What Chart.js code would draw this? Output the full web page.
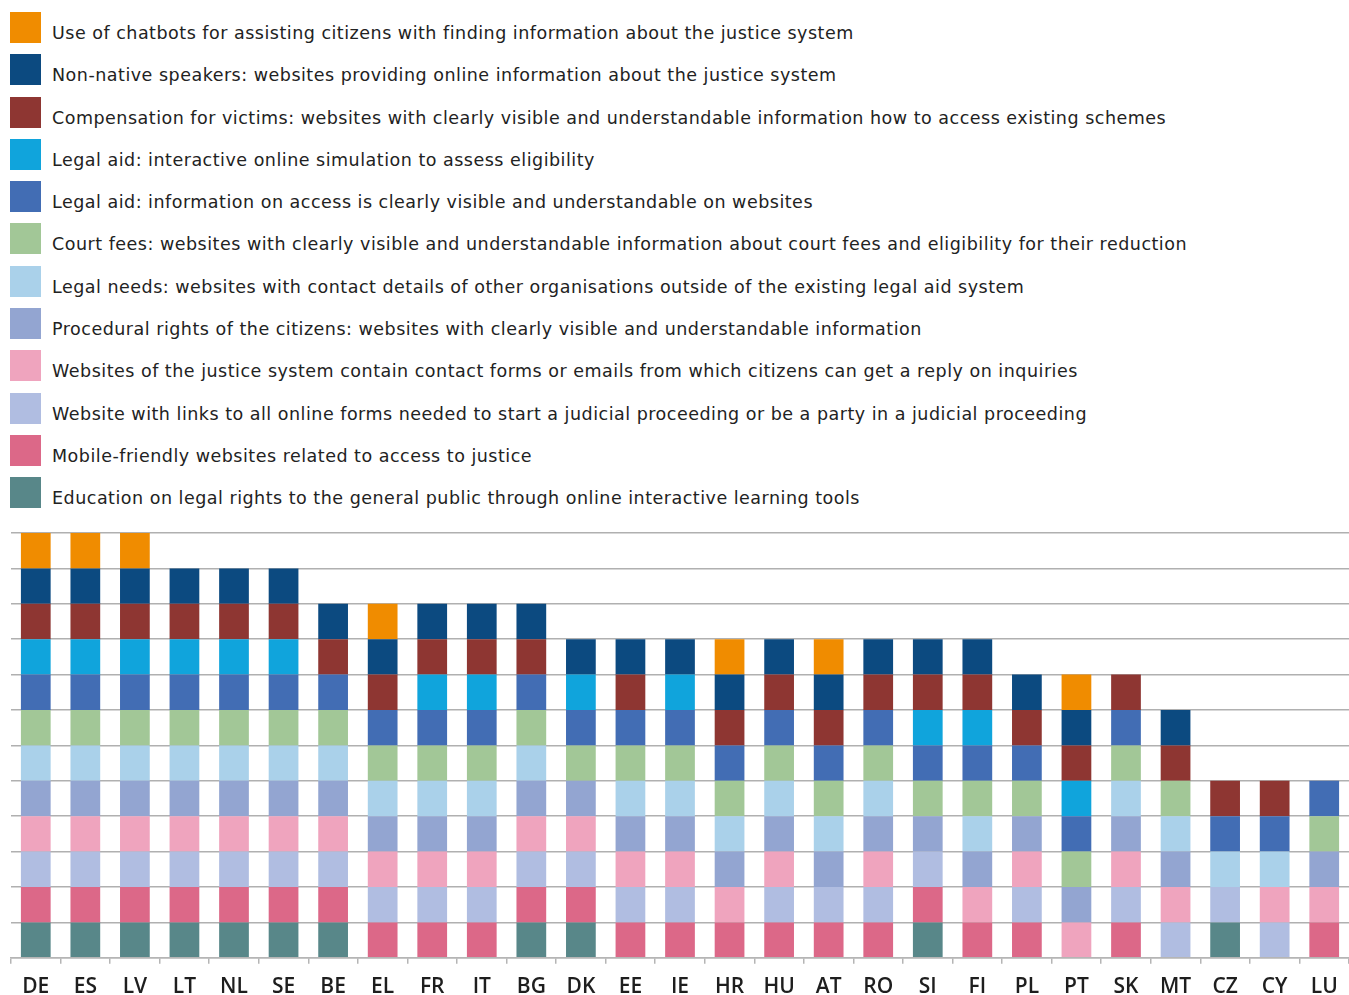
<!DOCTYPE html>
<html>
<head>
<meta charset="utf-8">
<script src="https://cdn.jsdelivr.net/npm/chart.js@4.4.1/dist/chart.umd.min.js"></script>
<style>
  body {
    margin: 0;
    background: #fff;
    width: 1349px;
    height: 995px;
    overflow: hidden;
    position: relative;
    font-family: "DejaVu Sans", sans-serif;
  }
  #legend {
    position: absolute;
    left: 10px;
    top: 12px;
  }
  .legend-row {
    display: flex;
    align-items: flex-end;
    height: 31px;
    margin-bottom: 11.3px;
  }
  .legend-box {
    width: 31px;
    height: 31px;
    flex: none;
  }
  .legend-text {
    margin-left: 11px;
    font-size: 17.5px;
    letter-spacing: 0.5px;
    color: #222;
    line-height: 17px;
    padding-bottom: 1px;
    white-space: nowrap;
  }
  #chartWrap {
    position: absolute;
    left: 0;
    top: 520px;
    width: 1349px;
    height: 491px;
  }
</style>
</head>
<body>
<div id="legend"></div>
<div id="chartWrap"><canvas id="myChart"></canvas></div>
<script>
const countries = ["DE", "ES", "LV", "LT", "NL", "SE", "BE", "EL", "FR", "IT", "BG", "DK", "EE", "IE", "HR", "HU", "AT", "RO", "SI", "FI", "PL", "PT", "SK", "MT", "CZ", "CY", "LU"];

// legend order (top of the stack first)
const categories = [
  "Use of chatbots for assisting citizens with finding information about the justice system",
  "Non-native speakers: websites providing online information about the justice system",
  "Compensation for victims: websites with clearly visible and understandable information how to access existing schemes",
  "Legal aid: interactive online simulation to assess eligibility",
  "Legal aid: information on access is clearly visible and understandable on websites",
  "Court fees: websites with clearly visible and understandable information about court fees and eligibility for their reduction",
  "Legal needs: websites with contact details of other organisations outside of the existing legal aid system",
  "Procedural rights of the citizens: websites with clearly visible and understandable information",
  "Websites of the justice system contain contact forms or emails from which citizens can get a reply on inquiries",
  "Website with links to all online forms needed to start a judicial proceeding or be a party in a judicial proceeding",
  "Mobile-friendly websites related to access to justice",
  "Education on legal rights to the general public through online interactive learning tools"
];

const colors = ["#f08c00", "#0c4a80", "#8e3632", "#10a4dc", "#426db4", "#a2c797", "#aad1ea", "#93a5d1", "#efa4be", "#b0bde1", "#dc6888", "#588789"];

// 1 = available in that member state
const chatbots     = [1,1,1,0,0,0,0,1,0,0,0,0,0,0,1,0,1,0,0,0,0,1,0,0,0,0,0];
const nonNative    = [1,1,1,1,1,1,1,1,1,1,1,1,1,1,1,1,1,1,1,1,1,1,0,1,0,0,0];
const compensation = [1,1,1,1,1,1,1,1,1,1,1,0,1,0,1,1,1,1,1,1,1,1,1,1,1,1,0];
const simulation   = [1,1,1,1,1,1,0,0,1,1,0,1,0,1,0,0,0,0,1,1,0,1,0,0,0,0,0];
const legalAidInfo = [1,1,1,1,1,1,1,1,1,1,1,1,1,1,1,1,1,1,1,1,1,1,1,0,1,1,1];
const courtFees    = [1,1,1,1,1,1,1,1,1,1,1,1,1,1,1,1,1,1,1,1,1,1,1,1,0,0,1];
const legalNeeds   = [1,1,1,1,1,1,1,1,1,1,1,0,1,1,1,1,1,1,0,1,0,0,1,1,1,1,0];
const procedural   = [1,1,1,1,1,1,1,1,1,1,1,1,1,1,1,1,1,1,1,1,1,1,1,1,0,0,1];
const contactForms = [1,1,1,1,1,1,1,1,1,1,1,1,1,1,1,1,0,1,0,1,1,1,1,1,0,1,1];
const onlineForms  = [1,1,1,1,1,1,1,1,1,1,1,1,1,1,0,1,1,1,1,0,1,0,1,1,1,1,0];
const mobile       = [1,1,1,1,1,1,1,1,1,1,1,1,1,1,1,1,1,1,1,1,1,0,1,0,0,0,1];
const education    = [1,1,1,1,1,1,1,0,0,0,1,1,0,0,0,0,0,0,1,0,0,0,0,0,1,0,0];

const series = [chatbots, nonNative, compensation, simulation, legalAidInfo, courtFees, legalNeeds, procedural, contactForms, onlineForms, mobile, education];

// html legend
const legend = document.getElementById("legend");
categories.forEach((name, i) => {
  const row = document.createElement("div");
  row.className = "legend-row";
  row.innerHTML = `<div class="legend-box" style="background:${colors[i]}"></div><div class="legend-text">${name}</div>`;
  legend.appendChild(row);
});

// first dataset sits at the bottom of the stack
const datasets = series.map((values, i) => ({
  label: categories[i],
  data: values,
  backgroundColor: colors[i],
  borderWidth: 0,
  barPercentage: 0.6,
  categoryPercentage: 1,
})).reverse();

const chart = document.getElementById("myChart");
new Chart(chart, {
  type: "bar",
  data: { labels: countries, datasets: datasets },
  options: {
    responsive: true,
    maintainAspectRatio: false,
    animation: false,
    layout: { padding: { left: 11, right: 0, top: 13, bottom: 0 } },
    plugins: {
      legend: { display: false },
      tooltip: { enabled: false },
    },
    scales: {
      x: {
        stacked: true,
        grid: {
          display: true,
          drawOnChartArea: false,
          drawTicks: true,
          tickLength: 6,
          color: "#b5b5b5",
          lineWidth: 1.5,
        },
        border: { display: true, color: "#b5b5b5", width: 1.5 },
        ticks: {
          color: "#1e1e1e",
          padding: 11,
          font: { family: "Open Sans", size: 21, weight: 600 },
        },
      },
      y: {
        stacked: true,
        min: 0,
        max: 12,
        z: 1,
        ticks: { display: false, stepSize: 1 },
        grid: { color: "#b0b0b0", lineWidth: 1.5, drawTicks: false },
        border: { display: false },
      },
    },
  },
});
</script>
</body>
</html>
